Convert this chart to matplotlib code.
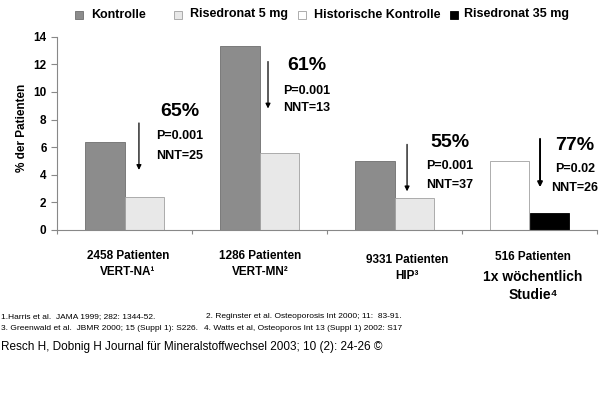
import numpy as np
import matplotlib
matplotlib.use('Agg')
import matplotlib.pyplot as plt
from matplotlib.patches import Rectangle

plt.rcParams['font.family'] = ['Liberation Sans', 'DejaVu Sans']

# data
series = ['Kontrolle', 'Risedronat 5 mg', 'Historische Kontrolle', 'Risedronat 35 mg']
kontrolle = [6.4, 13.3, 5.0, np.nan]
rised5 = [2.4, 5.6, 2.3, np.nan]
hist_kontrolle = [np.nan, np.nan, np.nan, 5.0]
rised35 = [np.nan, np.nan, np.nan, 1.2]
reduction = ['65%', '61%', '55%', '77%']
p_values = ['P=0.001', 'P=0.001', 'P=0.001', 'P=0.02']
nnt = ['NNT=25', 'NNT=13', 'NNT=37', 'NNT=26']
studies = ['2458 Patienten\nVERT-NA\u00b9', '1286 Patienten\nVERT-MN\u00b2',
           '9331 Patienten\nHIP\u00b3', '516 Patienten']
yticks = [0, 2, 4, 6, 8, 10, 12, 14]
footnotes = ['1.Harris et al.  JAMA 1999; 282: 1344-52.',
             '2. Reginster et al. Osteoporosis Int 2000; 11:  83-91.',
             '3. Greenwald et al.  JBMR 2000; 15 (Suppl 1): S226.',
             '4. Watts et al, Osteoporos Int 13 (Suppl 1) 2002: S17']
source = 'Resch H, Dobnig H Journal f\u00fcr Mineralstoffwechsel 2003; 10 (2): 24-26 \u00a9'

colors = ['#8c8c8c', '#e8e8e8', '#ffffff', '#000000']
edges = ['#6e6e6e', '#a0a0a0', '#a0a0a0', '#000000']

W, H = 600, 398
def fx(px): return px / W
def fy(py): return 1 - py / H

fig = plt.figure(figsize=(6, 3.98), dpi=100)
ax = fig.add_axes([fx(57), fy(230), fx(597) - fx(57), fy(36.7) - fy(230)])

x = np.arange(4)
bw = 0.296
ax.bar(x - bw/2, kontrolle, bw, color=colors[0], edgecolor=edges[0], lw=0.6)
ax.bar(x + bw/2, rised5, bw, color=colors[1], edgecolor=edges[1], lw=0.6)
ax.bar(x - bw/2, hist_kontrolle, bw, color=colors[2], edgecolor=edges[2], lw=0.6)
ax.bar(x + bw/2, rised35, bw, color=colors[3], edgecolor=edges[3], lw=0.6)

ax.set_xlim(-0.5, 3.5)
ax.set_ylim(0, 14)
ax.set_yticks(yticks)
ax.set_yticklabels([str(v) for v in yticks], fontsize=8.5, fontweight='bold')
ax.set_xticks([-0.5, 0.5, 1.5, 2.5, 3.5])
ax.set_xticklabels([])
ax.tick_params(axis='y', length=4, width=0.8, color='#888888', pad=3.5)
ax.tick_params(axis='x', length=3, width=0.8, color='#888888')
for s in ['top', 'right']:
    ax.spines[s].set_visible(False)
for s in ['left', 'bottom']:
    ax.spines[s].set_color('#888888')
    ax.spines[s].set_linewidth(0.8)

# arrows and annotations
arrow_x = [0.107, 1.063, 2.093, 3.078]
arrow_y = [(7.75, 4.35), (12.2, 8.8), (6.2, 2.8), (6.6, 3.1)]
arrow_lw = [0.9, 0.9, 0.9, 1.4]
text_x = [0.411, 1.352, 2.411, 3.337]
text_y = [(8.55, 6.8, 5.38), (11.9, 10.1, 8.86), (6.37, 4.64, 3.24), (6.1, 4.4, 3.02)]
for i in range(4):
    y0, y1 = arrow_y[i]
    ax.annotate('', xy=(arrow_x[i], y1), xytext=(arrow_x[i], y0),
                arrowprops=dict(arrowstyle='-|>', color='black', lw=arrow_lw[i],
                                mutation_scale=7, shrinkA=0, shrinkB=0))
    ax.text(text_x[i], text_y[i][0], reduction[i], ha='center', va='center',
            fontsize=14, fontweight='bold')
    ax.text(text_x[i], text_y[i][1], p_values[i], ha='center', va='center',
            fontsize=9, fontweight='bold')
    ax.text(text_x[i], text_y[i][2], nnt[i], ha='center', va='center',
            fontsize=9, fontweight='bold')

fig.text(fx(22), fy(128), '% der Patienten', rotation=90, ha='center', va='center',
         fontsize=8.5, fontweight='bold')

# category labels
label_x = [128, 260, 407, 533]
label_y = [264, 264, 268, 257]
for i in range(4):
    fig.text(fx(label_x[i]), fy(label_y[i]), studies[i], ha='center', va='center',
             fontsize=8.5, fontweight='bold', linespacing=1.55)
fig.text(fx(533), fy(277), '1x w\u00f6chentlich', ha='center', va='center',
         fontsize=10, fontweight='bold')
fig.text(fx(533), fy(295), 'Studie\u2074', ha='center', va='center',
         fontsize=10, fontweight='bold')

# legend
leg_box = [75, 174, 298, 450]
leg_text = [91, 190, 314, 464]
for i in range(4):
    fig.add_artist(Rectangle((fx(leg_box[i]), fy(18.5)), fx(8), 8 / H,
                             transform=fig.transFigure, facecolor=colors[i],
                             edgecolor=edges[i], lw=0.6))
    fig.text(fx(leg_text[i]), fy(14.5), series[i], ha='left', va='center',
             fontsize=9, fontweight='bold')

# footnotes
fig.text(fx(1), fy(317), footnotes[0], ha='left', va='center', fontsize=6)
fig.text(fx(206), fy(317), footnotes[1], ha='left', va='center', fontsize=6)
fig.text(fx(1), fy(328), footnotes[2], ha='left', va='center', fontsize=6)
fig.text(fx(204), fy(328), footnotes[3], ha='left', va='center', fontsize=6)

fig.text(fx(1), fy(347), source, ha='left', va='center', fontsize=8.5)

fig.savefig('out.png', dpi=100, facecolor='white')
